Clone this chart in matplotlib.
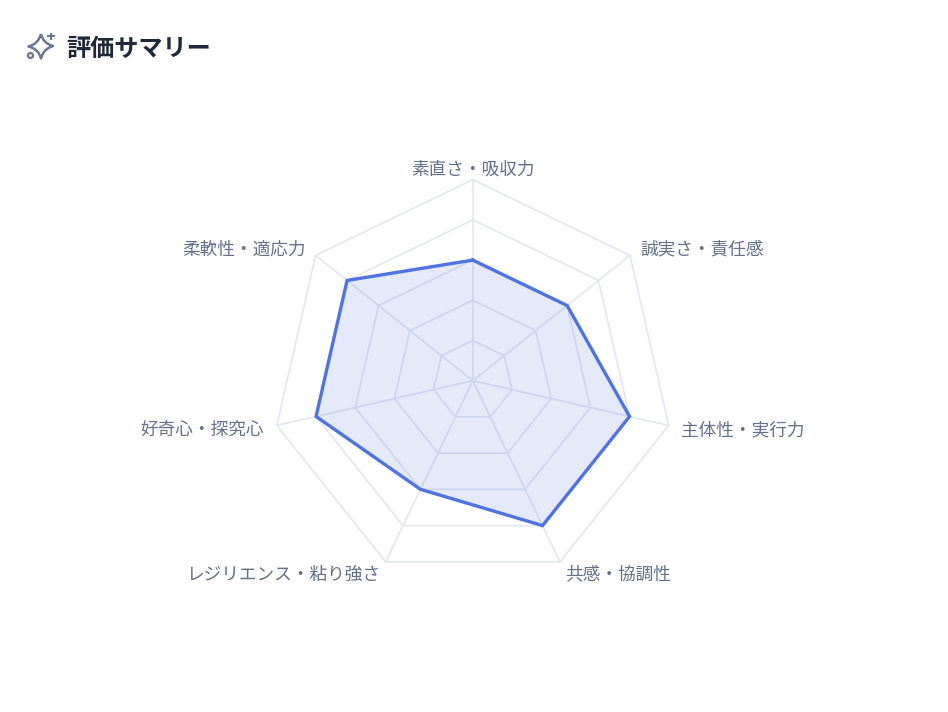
import numpy as np
import matplotlib
matplotlib.use("Agg")
import matplotlib.pyplot as plt
from matplotlib.path import Path
from matplotlib.patches import PathPatch, Circle

plt.rcParams['font.family'] = ['Noto Sans CJK JP', 'DejaVu Sans']

W, H = 948, 712
CX, CY, RADIUS = 472.8, 380.7, 201

labels = ["素直さ・吸収力", "誠実さ・責任感", "主体性・実行力", "共感・協調性",
          "レジリエンス・粘り強さ", "好奇心・探究心", "柔軟性・適応力"]
scores = [3, 3, 4, 4, 3, 4, 4]
levels = [1, 2, 3, 4, 5]
max_score = 5

GRID = "#e4e7f0"
LINE = "#4f73e3"
LABEL = "#64708a"
TITLE = "#1f2937"
ICON = "#6b7690"

fig = plt.figure(figsize=(W / 100, H / 100), dpi=100, facecolor="white")

ax = fig.add_axes([(CX - RADIUS) / W, (H - CY - RADIUS) / H, 2 * RADIUS / W, 2 * RADIUS / H],
                  projection="polar")
ax.set_theta_zero_location("N")
ax.set_theta_direction(-1)
ax.set_ylim(0, max_score)
ax.axis("off")

angles = np.linspace(0, 2 * np.pi, len(labels), endpoint=False)
closed = np.append(angles, angles[0])

# web
for lv in levels:
    ax.plot(closed, [lv] * len(closed), color=GRID, lw=1.2, zorder=1, clip_on=False)
for a in angles:
    ax.plot([a, a], [0, max_score], color=GRID, lw=1.2, zorder=1, clip_on=False)

vals = scores + scores[:1]
ax.fill(closed, vals, color=LINE, alpha=0.15, lw=0, zorder=2)
ax.plot(closed, vals, color=LINE, lw=2.4, zorder=3, solid_joinstyle="miter")

# labels sit just outside the outer ring, nudged down a bit (more near the top)
for a, name in zip(angles, labels):
    s = np.sin(a)
    ha = "center" if abs(s) < 0.01 else ("left" if s > 0 else "right")
    dy = -(2.0 + 2.0 * np.cos(a)) * 0.72
    dx = -1.0 if s > 0.01 else (1.0 if s < -0.01 else 0)
    ax.annotate(name, xy=(a, max_score * 1.07), xytext=(dx * 0.72, dy), textcoords="offset points",
                ha=ha, va="center", fontsize=12.7, color=LABEL, annotation_clip=False)

# header
fig.text(66.5 / W, 1 - 48.5 / H, "評価サマリー", fontsize=17.4, fontweight="bold",
         color=TITLE, va="center", ha="left")

# sparkle icon, drawn in pixel coords
ov = fig.add_axes([0, 0, 1, 1], facecolor="none")
ov.set_xlim(0, W)
ov.set_ylim(H, 0)
ov.axis("off")
tips = [(41, 34), (53, 46), (41, 58.5), (28.5, 46.5)]
mid = (41, 46.3)
verts, codes = [tips[0]], [Path.MOVETO]
for i in range(4):
    t0, t1 = tips[i], tips[(i + 1) % 4]
    # control point pulled towards the centre gives the concave star sides
    ctrl = (mid[0] + (t0[0] + t1[0] - 2 * mid[0]) * 0.2, mid[1] + (t0[1] + t1[1] - 2 * mid[1]) * 0.2)
    verts += [ctrl, t1]
    codes += [Path.CURVE3, Path.CURVE3]
ov.add_patch(PathPatch(Path(verts, codes), fc="none", ec=ICON, lw=1.8, joinstyle="round"))
ov.add_patch(Circle((30.5, 55.5), 2.5, fc="white", ec=ICON, lw=1.6, zorder=3))
ov.plot([50.8, 50.8], [33.5, 39], color=ICON, lw=1.5)
ov.plot([48, 53.6], [36.2, 36.2], color=ICON, lw=1.5)

fig.savefig("out.png", dpi=100)
